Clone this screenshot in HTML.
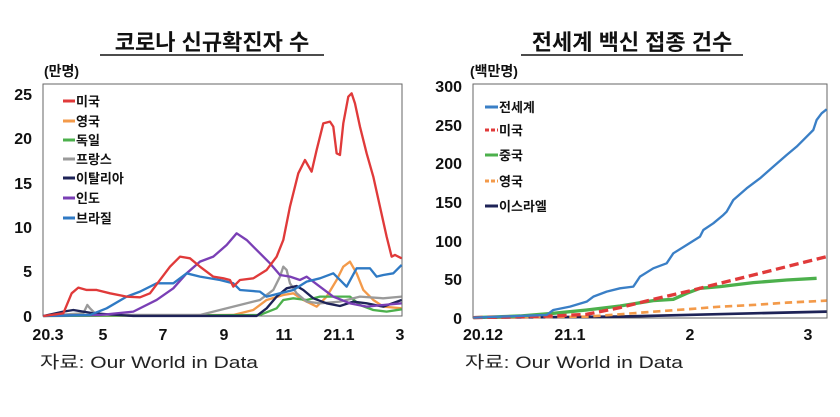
<!DOCTYPE html>
<html><head><meta charset="utf-8"><style>
body{margin:0;background:#fff;}
svg{display:block;}
text{font-family:"Liberation Sans","Noto Sans CJK KR",sans-serif;}
</style></head><body>
<svg width="840" height="417" viewBox="0 0 840 417" xmlns="http://www.w3.org/2000/svg">
<!-- Titles -->
<text x="212" y="50" font-size="22" font-weight="bold" text-anchor="middle" fill="#111">코로나 신규확진자 수</text>
<line x1="100" y1="55" x2="324" y2="55" stroke="#111" stroke-width="1.5"/>
<text x="632" y="50" font-size="22" font-weight="bold" text-anchor="middle" fill="#111">전세계 백신 접종 건수</text>
<line x1="521" y1="55" x2="743" y2="55" stroke="#111" stroke-width="1.5"/>

<!-- Left chart -->
<text x="44" y="76" font-size="14" font-weight="bold" fill="#111">(만명)</text>
<rect x="43" y="84" width="359" height="232" fill="none" stroke="#666" stroke-width="1"/>
<g font-size="16" font-weight="bold" fill="#111" text-anchor="end">
<text x="32" y="100">25</text><text x="32" y="144">20</text><text x="32" y="189">15</text><text x="32" y="233">10</text><text x="32" y="277">5</text><text x="32" y="322">0</text>
</g>
<g font-size="16" font-weight="bold" fill="#111" text-anchor="middle">
<text x="48" y="340">20.3</text><text x="103" y="340">5</text><text x="163" y="340">7</text><text x="224" y="340">9</text><text x="284" y="340">11</text><text x="339" y="340">21.1</text><text x="400" y="340">3</text>
</g>
<g transform="translate(0,60) scale(0.3333)" fill="none" stroke-width="7" stroke-linejoin="round">
<polyline stroke="#f39a4a" points="130,768 700,765 760,750 800,720 850,705 880,700 910,720 950,740 980,710 1010,660 1030,620 1050,605 1070,640 1090,690 1120,720 1150,740 1205,745"/>
<polyline stroke="#4cb04c" points="130,768 780,765 830,745 850,720 880,715 920,720 960,710 1000,710 1050,710 1080,735 1120,750 1160,755 1205,748"/>
<polyline stroke="#9a9a9a" points="130,768 250,760 262,735 270,745 290,765 600,765 700,740 780,720 820,690 840,650 850,620 860,630 870,670 890,700 920,725 960,730 1020,725 1080,710 1150,715 1205,710"/>
<polyline stroke="#1e2357" points="130,768 190,755 220,750 280,760 400,768 770,768 800,745 830,710 860,685 890,678 910,690 940,715 980,730 1020,738 1060,725 1100,730 1150,740 1205,720"/>
<polyline stroke="#7a3fb5" points="130,768 300,765 400,755 470,720 520,685 560,640 600,605 640,590 680,555 710,520 740,540 780,580 810,610 840,645 870,650 900,660 920,650 960,680 1000,710 1050,730 1100,740 1150,735 1205,730"/>
<polyline stroke="#2f7ac4" points="130,768 270,765 320,745 380,710 420,695 470,670 520,670 560,640 600,650 660,660 700,670 720,690 780,695 800,710 840,700 880,690 920,665 960,655 1000,640 1020,660 1040,680 1070,625 1110,625 1130,650 1150,645 1180,640 1205,615"/>
<polyline stroke="#e03a3a" points="130,768 190,760 215,700 235,683 260,690 290,690 330,700 380,710 420,712 450,700 480,660 510,620 540,590 570,595 600,620 640,650 670,655 690,660 700,680 720,660 760,655 800,630 830,590 850,540 870,440 895,340 915,300 935,335 950,270 970,190 990,185 1000,200 1010,280 1020,285 1030,190 1045,110 1055,100 1065,130 1080,200 1100,280 1120,350 1140,440 1160,530 1175,590 1185,585 1205,595"/>
</g>
<g stroke-width="3" font-size="13" font-weight="bold" fill="#111">
<line x1="63" y1="101" x2="75" y2="101" stroke="#e03a3a"/><text x="76" y="106">미국</text>
<line x1="63" y1="121" x2="75" y2="121" stroke="#f39a4a"/><text x="76" y="126">영국</text>
<line x1="63" y1="140" x2="75" y2="140" stroke="#4cb04c"/><text x="76" y="145">독일</text>
<line x1="63" y1="159" x2="75" y2="159" stroke="#9a9a9a"/><text x="76" y="164">프랑스</text>
<line x1="63" y1="178" x2="75" y2="178" stroke="#1e2357"/><text x="76" y="183">이탈리아</text>
<line x1="63" y1="198" x2="75" y2="198" stroke="#7a3fb5"/><text x="76" y="203">인도</text>
<line x1="63" y1="218" x2="75" y2="218" stroke="#2f7ac4"/><text x="76" y="223">브라질</text>
</g>
<text x="40" y="368" font-size="17" fill="#222" textLength="218" lengthAdjust="spacingAndGlyphs">자료: Our World in Data</text>

<!-- Right chart -->
<text x="470" y="76" font-size="14" font-weight="bold" fill="#111">(백만명)</text>
<rect x="473" y="84" width="354" height="234" fill="none" stroke="#666" stroke-width="1"/>
<g font-size="16" font-weight="bold" fill="#111" text-anchor="end">
<text x="462" y="92">300</text><text x="462" y="131">250</text><text x="462" y="169">200</text><text x="462" y="208">150</text><text x="462" y="247">100</text><text x="462" y="285">50</text><text x="462" y="324">0</text>
</g>
<g font-size="16" font-weight="bold" fill="#111" text-anchor="middle">
<text x="483" y="340">20.12</text><text x="570" y="340">21.1</text><text x="690" y="340">2</text><text x="808" y="340">3</text>
</g>
<g transform="translate(420,60) scale(0.3333)" fill="none" stroke-width="8" stroke-linejoin="round">
<polyline stroke="#1e2357" points="160,773 600,770 800,765 1000,760 1220,755"/>
<polyline stroke="#f39a4a" stroke-dasharray="22,14" points="160,773 500,770 600,763 700,755 800,748 900,740 1000,735 1100,728 1220,722"/>
<polyline stroke="#4cb04c" stroke-width="10" points="160,773 300,768 400,760 500,750 600,738 700,722 760,718 800,700 840,685 900,680 1000,668 1100,660 1190,655"/>
<polyline stroke="#e03a3a" stroke-width="10" stroke-dasharray="28,14" points="160,773 400,768 500,763 600,743 700,718 800,695 900,670 1000,645 1100,620 1220,590"/>
<polyline stroke="#3a7fc6" stroke-width="7" points="160,773 380,765 400,750 450,740 500,725 520,710 560,695 600,685 640,680 660,650 700,625 740,610 760,580 800,555 840,530 850,510 880,490 910,465 920,455 940,420 980,385 1020,355 1060,320 1100,285 1130,260 1160,230 1180,210 1190,180 1205,160 1220,148"/>
</g>
<g stroke-width="3" font-size="13" font-weight="bold" fill="#111">
<line x1="485" y1="107" x2="498" y2="107" stroke="#3a7fc6"/><text x="499" y="112">전세계</text>
<line x1="485" y1="130" x2="498" y2="130" stroke="#e03a3a" stroke-dasharray="4,2"/><text x="499" y="135">미국</text>
<line x1="485" y1="155" x2="498" y2="155" stroke="#4cb04c"/><text x="499" y="160">중국</text>
<line x1="485" y1="181" x2="498" y2="181" stroke="#f39a4a" stroke-dasharray="4,2"/><text x="499" y="186">영국</text>
<line x1="485" y1="206" x2="498" y2="206" stroke="#1e2357"/><text x="499" y="211">이스라엘</text>
</g>
<text x="465" y="368" font-size="17" fill="#222" textLength="218" lengthAdjust="spacingAndGlyphs">자료: Our World in Data</text>
</svg>
</body></html>
